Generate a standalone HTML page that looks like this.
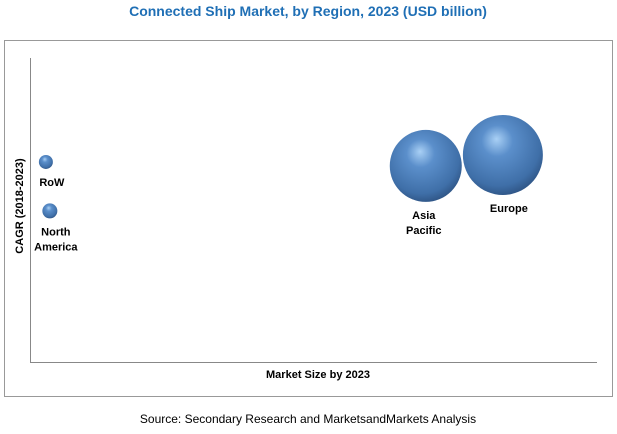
<!DOCTYPE html>
<html><head><meta charset="utf-8"><style>
body{margin:0;background:#fff;width:617px;height:429px;overflow:hidden;font-family:"Liberation Sans",sans-serif}
</style></head><body>
<svg width="617" height="429">
<defs>
<radialGradient id="g" cx="0.45" cy="0.38" r="0.65" fx="0.42" fy="0.3">
<stop offset="0" stop-color="#a9d0f5"/><stop offset="0.3" stop-color="#5b8fcb"/><stop offset="0.8" stop-color="#3f6fa8"/><stop offset="1" stop-color="#2d5282"/>
</radialGradient>
</defs>
<text x="308" y="16" text-anchor="middle" font-size="14" font-weight="bold" fill="#1f6fb5">Connected Ship Market, by Region, 2023 (USD billion)</text>
<rect x="4.5" y="40.5" width="608" height="356" fill="none" stroke="#999"/>
<line x1="30.5" y1="58" x2="30.5" y2="362" stroke="#888"/>
<line x1="30" y1="362.5" x2="597" y2="362.5" stroke="#888"/>
<text transform="translate(23,206) rotate(-90)" text-anchor="middle" font-size="11" font-weight="bold" fill="#000">CAGR (2018-2023)</text>
<text x="318" y="378" text-anchor="middle" font-size="11" font-weight="bold" fill="#000">Market Size by 2023</text>
<text x="308" y="423" text-anchor="middle" font-size="12" fill="#000">Source: Secondary Research and MarketsandMarkets Analysis</text>
<g id="bubbles"></g>
</svg>
<script>
const regions=["RoW","North America","Asia Pacific","Europe"];
const marketSize=[2.8,3.5,69.8,83.4];
const cagr=[65.8,49.7,64.5,68.1];
const bubbleSize=[7,7.5,36,40];
const labelLines=[["RoW"],["North","America"],["Asia","Pacific"],["Europe"]];
const xs=v=>30+v/100*567, ys=v=>362-v/100*304;
const ns="http://www.w3.org/2000/svg", g=document.getElementById("bubbles");
regions.forEach((r,i)=>{
 const cx=xs(marketSize[i]), cy=ys(cagr[i]), rad=bubbleSize[i];
 const c=document.createElementNS(ns,"circle");
 c.setAttribute("cx",cx);c.setAttribute("cy",cy);c.setAttribute("r",rad);c.setAttribute("fill","url(#g)");
 
 
 g.appendChild(c);
 const t=document.createElementNS(ns,"text");
 t.setAttribute("x",cx+(i==2?-2:6));t.setAttribute("y",cy+rad+17);
 t.setAttribute("text-anchor","middle");t.setAttribute("font-size","11");t.setAttribute("font-weight","bold");
 
 
 labelLines[i].forEach((l,k)=>{const s=document.createElementNS(ns,"tspan");s.setAttribute("x",t.getAttribute("x"));if(k)s.setAttribute("dy","15");s.textContent=l;t.appendChild(s);});
 g.appendChild(t);
});
</script>
</body></html>
